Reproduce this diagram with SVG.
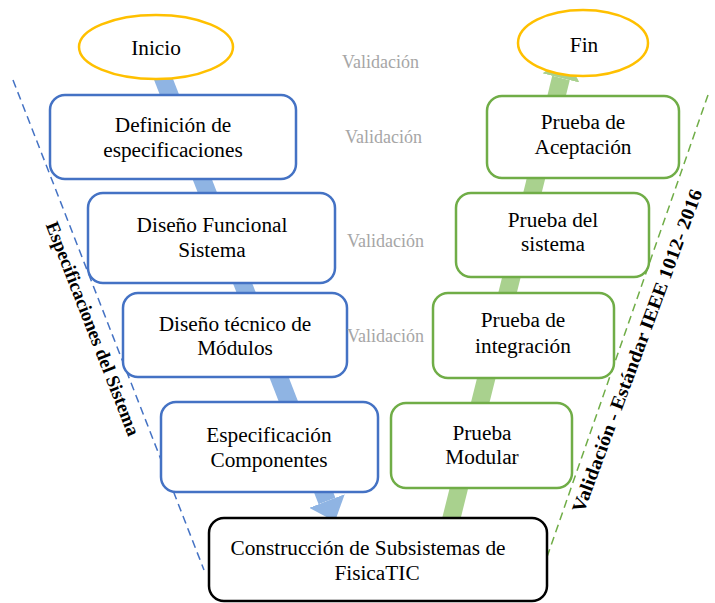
<svg xmlns="http://www.w3.org/2000/svg" width="715" height="603" viewBox="0 0 715 603">
<defs>
<marker id="headBlue" markerUnits="userSpaceOnUse" markerWidth="22" markerHeight="38" viewBox="0 -19 22 38" refX="0" refY="0" orient="auto">
<path d="M0,-19 L22,0 L0,19 Z" fill="#8FB4E3"/>
</marker>
<marker id="headGreen" markerUnits="userSpaceOnUse" markerWidth="22" markerHeight="38" viewBox="0 -19 22 38" refX="0" refY="0" orient="auto">
<path d="M0,-19 L22,0 L0,19 Z" fill="#A9D18E"/>
</marker>
</defs>
<style>
text{font-family:"Liberation Serif","Times New Roman",serif;fill:#000}
.t{font-size:21.3px;text-anchor:middle}
.val{font-size:18px;fill:#A6A6A6}
.side{font-size:19px;font-weight:bold;text-anchor:middle}
.blue{fill:#fff;stroke:#4472C4;stroke-width:2.5}
.green{fill:#fff;stroke:#70AD47;stroke-width:2.5}
.black{fill:#fff;stroke:#000;stroke-width:2.5}
.oval{fill:#fff;stroke:#FFC000;stroke-width:2.5}
.dash{fill:none;stroke-width:1.5;stroke-dasharray:8 5}
</style>
<rect width="715" height="603" fill="#fff"/>
<g id="guides">
<line class="dash" x1="13" y1="80" x2="204" y2="570" stroke="#4472C4"/>
<line class="dash" x1="708" y1="95" x2="547" y2="557" stroke="#70AD47"/>
</g>
<g id="connectors">
<line x1="156" y1="60" x2="327" y2="501" stroke="#8FB4E3" stroke-width="18" marker-end="url(#headBlue)"/>
<line x1="446" y1="540" x2="561" y2="78" stroke="#A9D18E" stroke-width="18" marker-end="url(#headGreen)"/>
</g>
<g id="inicio">
<ellipse class="oval" cx="156" cy="47" rx="77" ry="32"/>
<text class="t" x="156" y="55">Inicio</text>
</g>
<g id="fin">
<ellipse class="oval" cx="583" cy="43" rx="65" ry="33"/>
<text class="t" x="584" y="52">Fin</text>
</g>
<g id="definicion">
<rect class="blue" x="50" y="95" width="246" height="84" rx="15"/>
<text class="t" x="173" y="132">Definición de</text>
<text class="t" x="173" y="157">especificaciones</text>
</g>
<g id="disenoFuncional">
<rect class="blue" x="88" y="193" width="247" height="90" rx="15"/>
<text class="t" x="212" y="232">Diseño Funcional</text>
<text class="t" x="212" y="257">Sistema</text>
</g>
<g id="disenoTecnico">
<rect class="blue" x="123" y="293" width="224" height="84" rx="15"/>
<text class="t" x="235" y="331">Diseño técnico de</text>
<text class="t" x="235" y="355">Módulos</text>
</g>
<g id="especificacion">
<rect class="blue" x="161" y="402" width="217" height="90" rx="15"/>
<text class="t" x="269" y="442">Especificación</text>
<text class="t" x="269" y="467">Componentes</text>
</g>
<g id="construccion">
<rect class="black" x="209" y="518" width="338" height="83" rx="15"/>
<text class="t" x="368" y="555">Construcción de Subsistemas de</text>
<text class="t" x="377" y="580">FisicaTIC</text>
</g>
<g id="aceptacion">
<rect class="green" x="487" y="96" width="192" height="82" rx="15"/>
<text class="t" x="583" y="129">Prueba de</text>
<text class="t" x="583" y="154">Aceptación</text>
</g>
<g id="pruebaSistema">
<rect class="green" x="456" y="193" width="193" height="84" rx="15"/>
<text class="t" x="553" y="227">Prueba del</text>
<text class="t" x="553" y="251">sistema</text>
</g>
<g id="integracion">
<rect class="green" x="433" y="293" width="181" height="85" rx="15"/>
<text class="t" x="523" y="327">Prueba de</text>
<text class="t" x="523" y="353">integración</text>
</g>
<g id="modular">
<rect class="green" x="391" y="403" width="181" height="85" rx="15"/>
<text class="t" x="482" y="440">Prueba</text>
<text class="t" x="482" y="464">Modular</text>
</g>
<g id="labels">
<text class="val" x="342" y="68">Validación</text>
<text class="val" x="345" y="143">Validación</text>
<text class="val" x="347" y="247">Validación</text>
<text class="val" x="347" y="342">Validación</text>
<text class="side" transform="translate(87,331) rotate(68.7)" textLength="228" lengthAdjust="spacingAndGlyphs">Especificaciones del Sistema</text>
<text class="side" transform="translate(643,353) rotate(-69.7)" textLength="343" lengthAdjust="spacingAndGlyphs">Validación - Estándar IEEE 1012- 2016</text>
</g>
</svg>
